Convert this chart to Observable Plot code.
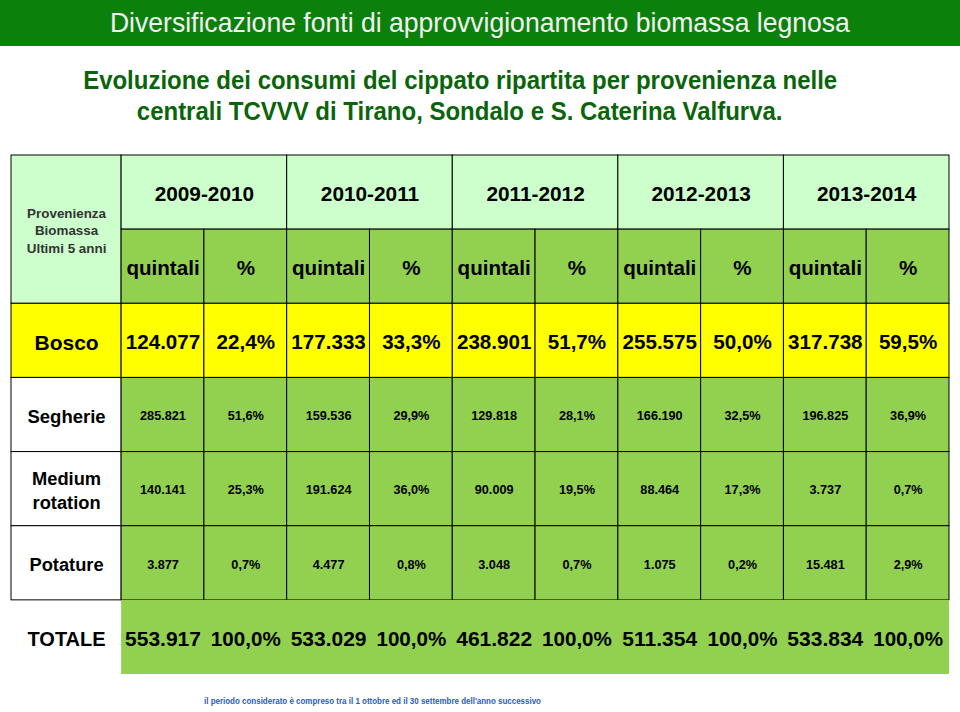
<!DOCTYPE html>
<html>
<head>
<meta charset="utf-8">
<script src="https://cdn.jsdelivr.net/npm/d3@7"></script>
<script src="https://cdn.jsdelivr.net/npm/@observablehq/plot@0.6"></script>
<style>
  html, body { margin: 0; padding: 0; background: #ffffff; width: 960px; height: 712px; overflow: hidden; }
  #title { height: 46px; background: #0B800B; color: #F2F2F2; text-align: center; line-height: 46px;
           font-family: "Liberation Sans", Arial, sans-serif; font-size: 28px; white-space: nowrap; }
  #sub { height: 85px; padding-top: 19px; width: 920px; text-align: center; color: #0A650A; font-weight: bold;
         font-family: "Liberation Sans", Arial, sans-serif; font-size: 25px; line-height: 31px; white-space: nowrap; }
  #sub span { display: inline-block; transform-origin: 50% 50%; }
  #title span { display: inline-block; transform-origin: 50% 50%; }
  #note { height: 22px; line-height: 22px; padding-left: 204px; color: #2A5DB8; font-weight: bold;
          font-family: "Liberation Sans", Arial, sans-serif; font-size: 9px; white-space: nowrap; }
  #note span { display: inline-block; transform-origin: 0 50%; }
</style>
</head>
<body>
<div id="title"><span id="t1">Diversificazione fonti di approvvigionamento biomassa legnosa</span></div>
<div id="sub"><span id="s1">Evoluzione dei consumi del cippato ripartita per provenienza nelle</span><br><span id="s2">centrali TCVVV di Tirano, Sondalo e S. Caterina Valfurva.</span></div>
<div id="chart"></div>
<div id="note"><span id="n1">il periodo considerato è compreso tra il 1 ottobre ed il 30 settembre dell'anno successivo</span></div>
<script>
// ---- data ----
const years = ["2009-2010", "2010-2011", "2011-2012", "2012-2013", "2013-2014"];
const subHeaders = ["quintali", "%"];
const headerLabel = "Provenienza\nBiomassa\nUltimi 5 anni";
const sources = ["Bosco", "Segherie", "Medium\nrotation", "Potature"];
const boscoQ = [124077, 177333, 238901, 255575, 317738];
const boscoP = [22.4, 33.3, 51.7, 50.0, 59.5];
const segherieQ = [285821, 159536, 129818, 166190, 196825];
const segherieP = [51.6, 29.9, 28.1, 32.5, 36.9];
const mediumQ = [140141, 191624, 90009, 88464, 3737];
const mediumP = [25.3, 36.0, 19.5, 17.3, 0.7];
const potatureQ = [3877, 4477, 3048, 1075, 15481];
const potatureP = [0.7, 0.8, 0.7, 0.2, 2.9];
const totaleLabel = "TOTALE";
const totaleQ = [553917, 533029, 461822, 511354, 533834];
const totaleP = [100.0, 100.0, 100.0, 100.0, 100.0];

// ---- condensed look for title texts (narrow font not installed) ----
function condense(id, targetWidth, base) {
  const el = document.getElementById(id);
  const w = el.getBoundingClientRect().width;
  const k = base !== undefined ? base : targetWidth / w;
  el.style.transform = `scaleX(${k})`;
  return k;
}
condense("t1", 740);
const ks = condense("s1", 754);
condense("s2", null, ks);
condense("n1", 337);

// ---- formatting (Italian) ----
const loc = d3.formatLocale({decimal: ",", thousands: ".", grouping: [3], currency: ["", " €"]});
const fq = loc.format(",d");
const fp = d => loc.format(".1f")(d) + "%";

// ---- layout in grid units ----
const W0 = 1.33; // first column width relative to a data column
const cx1 = c => c === 0 ? 0 : W0 + (c - 1);
const cx2 = c => W0 + c;

const LIGHT = "#CCFFCC", GREEN = "#92D050", YELLOW = "#FFFF00", WHITE = "#FFFFFF";
const cells = [];
function cell(c1, c2, r1, r2, fill, text, size, stroke = "black", color = "black") {
  cells.push({x1: cx1(c1), x2: cx2(c2), y1: r1, y2: r2, fill, text, size, stroke, color});
}
cell(0, 0, 0, 2, LIGHT, headerLabel, 13.4, "black", "#333333");
years.forEach((y, i) => {
  cell(1 + 2 * i, 2 + 2 * i, 0, 1, LIGHT, y, 20.8);
  subHeaders.forEach((s, j) => cell(1 + 2 * i + j, 1 + 2 * i + j, 1, 2, GREEN, s, 20.6));
});
const body = [
  {label: sources[0], q: boscoQ, p: boscoP, fillL: YELLOW, fill: YELLOW, ls: 21, vs: 20.6},
  {label: sources[1], q: segherieQ, p: segherieP, fillL: WHITE, fill: GREEN, ls: 18.5, vs: 12.7},
  {label: sources[2], q: mediumQ, p: mediumP, fillL: WHITE, fill: GREEN, ls: 18.3, vs: 12.7},
  {label: sources[3], q: potatureQ, p: potatureP, fillL: WHITE, fill: GREEN, ls: 18.3, vs: 12.7}
];
body.forEach((r, k) => {
  const row = 2 + k;
  cell(0, 0, row, row + 1, r.fillL, r.label, r.ls);
  r.q.forEach((v, i) => {
    cell(1 + 2 * i, 1 + 2 * i, row, row + 1, r.fill, fq(v), r.vs);
    cell(2 + 2 * i, 2 + 2 * i, row, row + 1, r.fill, fp(r.p[i]), r.vs);
  });
});
// total row: no borders, one green band
cell(0, 0, 6, 7, "none", totaleLabel, 20, "none");
cell(1, 10, 6, 7, GREEN, "", 20, "none");
totaleQ.forEach((v, i) => {
  cell(1 + 2 * i, 1 + 2 * i, 6, 7, "none", fq(v), 21, "none");
  cell(2 + 2 * i, 2 + 2 * i, 6, 7, "none", fp(totaleP[i]), 20.6, "none");
});

const chart = Plot.plot({
  width: 960,
  height: 540,
  marginTop: 5,
  marginBottom: 16,
  marginLeft: 11,
  marginRight: 11,
  x: {domain: [0, W0 + 10], axis: null},
  y: {domain: [0, 7], reverse: true, axis: null},
  color: {type: "identity"},
  style: {fontFamily: "'Liberation Sans', Arial, Helvetica, sans-serif", background: "white"},
  marks: [
    Plot.rect(cells, {x1: "x1", x2: "x2", y1: "y1", y2: "y2", fill: "fill", stroke: "stroke", strokeWidth: 1, inset: 0}),
    Plot.text(cells.filter(d => d.text), {
      x: d => (d.x1 + d.x2) / 2,
      y: d => (d.y1 + d.y2) / 2,
      text: "text",
      fontSize: "size",
      fill: "color",
      fontWeight: "bold",
      lineHeight: 1.3,
      textAnchor: "middle"
    })
  ]
});
document.getElementById("chart").appendChild(chart);
</script>
</body>
</html>
